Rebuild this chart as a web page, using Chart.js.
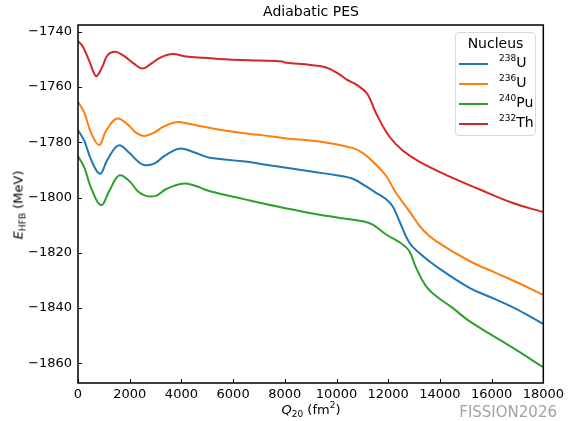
<!DOCTYPE html>
<html>
<head>
<meta charset="utf-8">
<script src="https://cdn.jsdelivr.net/npm/chart.js@4.4.1/dist/chart.umd.min.js"></script>
<style>
  html, body { margin: 0; padding: 0; background: #fff; }
  #wrap { position: relative; width: 568px; height: 421px; font-family: "DejaVu Sans", sans-serif; color: #000; }
  canvas { position: absolute; left: 0; top: 0; }
  .abs { position: absolute; white-space: nowrap; }
  #title { left: 311px; top: 3px; transform: translateX(-50%); font-size: 14px; }
  #xtitle { left: 311px; top: 402px; transform: translateX(-50%); font-size: 13px; }
  #ytitle { left: 18px; top: 205px; transform: translate(-50%, -50%) rotate(-90deg); font-size: 13px; }
  #wm { right: 11px; top: 403px; font-size: 15px; color: #a3a3a3; }
  #legend { left: 455px; top: 32px; width: 81px; height: 104px; border: 1px solid #d9d9d9; border-radius: 4px; background: rgba(255,255,255,0.85); box-sizing: border-box; }
  #legend .lt { position: absolute; left: 0; width: 100%; top: 2px; text-align: center; font-size: 14px; }
  #legend .row { position: absolute; left: 3px; height: 20px; }
  #legend .sw { position: absolute; left: 0; top: 9px; width: 29px; height: 0; border-top: 2px solid; }
  #legend .lab { position: absolute; left: 40px; top: 0; font-size: 14px; }
  sup { font-size: 9px; vertical-align: 6px; line-height: 0; }
  sub { font-size: 9px; vertical-align: -3px; line-height: 0; }
</style>
</head>
<body>
<div id="wrap">
  <canvas id="c" width="568" height="421"></canvas>
  <div class="abs" id="title">Adiabatic PES</div>
  <div class="abs" id="xtitle"><i>Q</i><sub>20</sub> (fm<sup>2</sup>)</div>
  <div class="abs" id="ytitle"><i>E</i><sub>HFB</sub> (MeV)</div>
  <div class="abs" id="wm">FISSION2026</div>
  <div class="abs" id="legend"><div class="lt">Nucleus</div></div>
</div>
<script>
// ---- data (Q20 in fm^2, E_HFB in MeV) ----
const u238Q = [0, 245, 502, 849, 1145, 1570, 1982, 2304, 2560, 2946, 3333, 3912, 4427, 4880, 5100, 6380, 7670, 8960, 10120, 10630, 11150, 11530, 11920, 12170, 12430, 12820, 13200, 13850, 15140, 16160, 17000, 18000];
const u238E = [-1775.6, -1779.5, -1786.2, -1791.4, -1786.2, -1781.1, -1783.8, -1786.8, -1788.2, -1787.7, -1785.0, -1782.3, -1783.4, -1785.0, -1785.6, -1786.9, -1788.7, -1790.5, -1792.1, -1793.2, -1796.0, -1798.3, -1800.6, -1803.2, -1808.5, -1816.4, -1820.1, -1824.9, -1832.7, -1836.9, -1840.6, -1845.8];

const u236Q = [0, 245, 502, 824, 1081, 1506, 1918, 2240, 2560, 2946, 3270, 3784, 4298, 4880, 6000, 7000, 8000, 9340, 10630, 11020, 11530, 11920, 12300, 12820, 13330, 13850, 15140, 16160, 17000, 18000];
const u236E = [-1765.3, -1769.3, -1776.5, -1781.0, -1775.9, -1771.4, -1773.5, -1776.5, -1777.7, -1776.5, -1774.5, -1772.7, -1773.3, -1774.4, -1776.2, -1777.3, -1778.5, -1779.7, -1782.1, -1783.9, -1788.1, -1792.2, -1798.3, -1805.0, -1811.6, -1815.8, -1823.0, -1827.3, -1830.8, -1835.3];

const pu240Q = [0, 245, 502, 888, 1210, 1596, 1982, 2304, 2625, 3012, 3398, 4041, 4556, 4880, 5100, 6380, 7670, 8960, 10120, 11020, 11400, 11920, 12560, 12820, 13080, 13460, 13850, 14490, 15140, 16810, 18000];
const pu240E = [-1785.0, -1789.2, -1796.4, -1802.8, -1797.6, -1792.0, -1794.0, -1797.6, -1799.4, -1799.4, -1797.0, -1795.0, -1795.8, -1797.0, -1797.7, -1800.5, -1803.2, -1805.6, -1807.4, -1808.6, -1809.8, -1813.4, -1817.0, -1819.5, -1825.5, -1832.1, -1835.7, -1840.0, -1844.8, -1854.4, -1861.5];

const th232Q = [0, 180, 437, 630, 733, 953, 1145, 1442, 1790, 2175, 2497, 2818, 3205, 3655, 4170, 4880, 6000, 7000, 7900, 8000, 9000, 9600, 10100, 10400, 10800, 11200, 11530, 12050, 12560, 13200, 14490, 15520, 16800, 18000];
const th232E = [-1743.4, -1745.2, -1750.6, -1755.2, -1756.0, -1752.4, -1748.4, -1747.2, -1748.8, -1751.6, -1753.3, -1751.6, -1749.2, -1748.0, -1748.9, -1749.4, -1750.1, -1750.4, -1750.7, -1751.1, -1752.0, -1752.9, -1755.3, -1757.3, -1759.3, -1762.6, -1769.5, -1778.0, -1783.0, -1787.0, -1792.9, -1797.0, -1801.9, -1805.3];

const seriesNames = ["238U", "236U", "240Pu", "232Th"];
const seriesSup = ["238", "236", "240", "232"];
const seriesEl = ["U", "U", "Pu", "Th"];
const seriesColors = ["#1f77b4", "#ff7f0e", "#2ca02c", "#d62728"];

const xTicks = [0, 2000, 4000, 6000, 8000, 10000, 12000, 14000, 16000, 18000];
const yTicks = [-1860, -1840, -1820, -1800, -1780, -1760, -1740];

// ---- build datasets ----
const qs = [u238Q, u236Q, pu240Q, th232Q];
const es = [u238E, u236E, pu240E, th232E];
const datasets = qs.map((q, i) => ({
  label: seriesNames[i],
  data: q.map((x, k) => ({ x: x, y: es[i][k] })),
  borderColor: seriesColors[i],
  backgroundColor: seriesColors[i],
  borderWidth: 2,
  pointRadius: 0,
  fill: false,
  tension: 0.4,
  borderJoinStyle: 'round',
  borderCapStyle: 'round'
}));

// legend (HTML)
const leg = document.getElementById('legend');
seriesNames.forEach((n, i) => {
  const r = document.createElement('div');
  r.className = 'row';
  r.style.top = (21 + 20 * i) + 'px';
  r.innerHTML = '<div class="sw" style="border-color:' + seriesColors[i] + '"></div>' +
    '<div class="lab"><sup>' + seriesSup[i] + '</sup>' + seriesEl[i] + '</div>';
  leg.appendChild(r);
});

const fmt = v => String(v).replace('-', '\u2212');

const frame = {
  id: 'frame',
  afterDatasetsDraw(chart) {
    const { ctx, chartArea: a, scales } = chart;
    ctx.save();
    ctx.strokeStyle = '#000';
    ctx.lineWidth = 1;
    ctx.beginPath();
    xTicks.forEach(v => {
      const p = Math.round(scales.x.getPixelForValue(v)) + 0.5;
      ctx.moveTo(p, a.bottom); ctx.lineTo(p, a.bottom - 4);
    });
    yTicks.forEach(v => {
      const p = Math.round(scales.y.getPixelForValue(v)) + 0.5;
      ctx.moveTo(a.left, p); ctx.lineTo(a.left + 4, p);
    });
    ctx.stroke();
    ctx.lineWidth = 1.5;
    ctx.strokeRect(a.left, a.top, a.right - a.left, a.bottom - a.top);
    ctx.restore();
  }
};

new Chart(document.getElementById('c'), {
  type: 'line',
  data: { datasets },
  options: {
    responsive: false,
    animation: false,
    layout: { padding: { top: 25, right: 24, left: 0, bottom: 0 } },
    plugins: { legend: { display: false }, title: { display: false }, tooltip: { enabled: false } },
    scales: {
      x: {
        type: 'linear', min: 0, max: 18000,
        grid: { display: false, drawTicks: false },
        border: { display: false },
        afterFit: s => { s.height = 38; },
        afterBuildTicks: s => { s.ticks = xTicks.map(v => ({ value: v })); },
        ticks: { padding: 4, maxRotation: 0, autoSkip: false, color: '#000',
                 font: { family: 'DejaVu Sans', size: 13 }, callback: v => fmt(v) }
      },
      y: {
        type: 'linear', min: -1867.2, max: -1737.5,
        grid: { display: false, drawTicks: false },
        border: { display: false },
        afterFit: s => { s.width = 78; },
        afterBuildTicks: s => { s.ticks = yTicks.map(v => ({ value: v })); },
        ticks: { padding: 6, autoSkip: false, color: '#000',
                 font: { family: 'DejaVu Sans', size: 13 }, callback: v => fmt(v) }
      }
    }
  },
  plugins: [frame]
});
</script>
</body>
</html>
